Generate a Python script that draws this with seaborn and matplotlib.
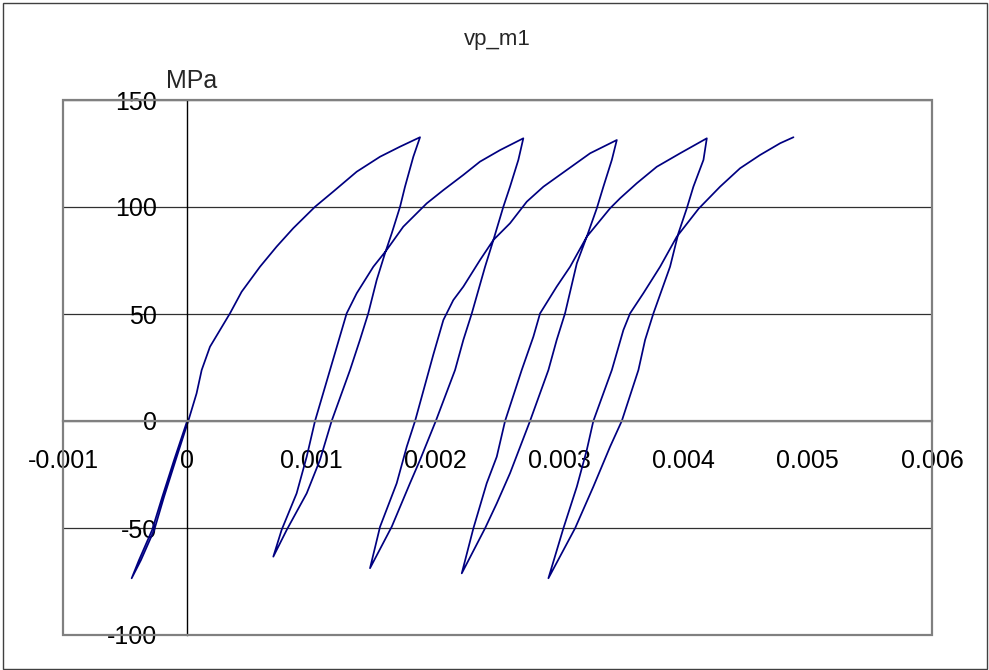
import matplotlib
matplotlib.use("Agg")
import matplotlib.pyplot as plt
from matplotlib.patches import Rectangle
from matplotlib.ticker import FuncFormatter, MultipleLocator
import pandas as pd
import seaborn as sns

# Cyclic test record: (strain, stress in MPa), each branch in load order
ramp_down = [(0.0, 0.0), (-0.000105, -18.2), (-0.000200, -35.4), (-0.000282, -50.9),
             (-0.000388, -65.0), (-0.000447, -73.5)]
load_1 = [(-0.000447, -73.5), (-0.000372, -65.0), (-0.000265, -50.9), (-0.000186, -35.4),
          (-0.000092, -18.2), (0.000009, 0.0), (0.000076, 12.9), (0.000117, 23.8),
          (0.000184, 34.7), (0.000345, 50.3), (0.000439, 60.4), (0.000587, 72.1),
          (0.000721, 81.5), (0.000855, 90.1), (0.001030, 100.1), (0.001177, 107.2),
          (0.001366, 116.5), (0.001554, 123.5), (0.001715, 128.2), (0.001876, 132.6)]
unload_1 = [(0.001876, 132.6), (0.001822, 123.5), (0.001755, 109.5), (0.001715, 100.1),
            (0.001648, 87.7), (0.001594, 78.4), (0.001527, 65.9), (0.001459, 50.3),
            (0.001392, 37.9), (0.001312, 23.8), (0.001164, 0.0), (0.001070, -18.2),
            (0.000963, -33.8), (0.000802, -50.9), (0.000694, -63.4)]
reload_1 = [(0.000694, -63.4), (0.000761, -50.9), (0.000882, -33.8), (0.000963, -16.7),
            (0.001030, 0.0), (0.001151, 23.8), (0.001231, 39.4), (0.001285, 50.3),
            (0.001366, 59.7), (0.001500, 72.1), (0.001607, 79.9), (0.001741, 90.8),
            (0.001930, 101.7), (0.002064, 107.9), (0.002225, 115.0), (0.002359, 121.2),
            (0.002521, 126.6), (0.002708, 132.1)]
unload_2 = [(0.002708, 132.1), (0.002668, 122.0), (0.002601, 109.5), (0.002547, 100.1),
            (0.002467, 84.6), (0.002400, 72.1), (0.002293, 50.3), (0.002225, 37.9),
            (0.002158, 23.8), (0.002003, 0.0), (0.001876, -18.2), (0.001795, -29.1),
            (0.001648, -49.4), (0.001473, -68.8)]
reload_2 = [(0.001473, -68.8), (0.001554, -49.4), (0.001688, -29.1), (0.001769, -12.0),
            (0.001836, 0.0), (0.001983, 31.0), (0.002064, 47.2), (0.002144, 56.5),
            (0.002225, 62.8), (0.002359, 75.2), (0.002467, 84.6), (0.002601, 92.4),
            (0.002736, 102.5), (0.002870, 109.5), (0.003058, 117.3), (0.003246, 125.1),
            (0.003461, 131.3)]
unload_3 = [(0.003461, 131.3), (0.003421, 122.0), (0.003353, 109.5), (0.003300, 99.4),
            (0.003219, 86.1), (0.003139, 73.7), (0.003044, 50.3), (0.002977, 37.9),
            (0.002910, 23.8), (0.002762, 0.0), (0.002601, -24.4), (0.002494, -38.5),
            (0.002400, -50.1), (0.002212, -71.2)]
reload_3 = [(0.002212, -71.2), (0.002306, -50.1), (0.002413, -29.1), (0.002494, -16.7),
            (0.002561, 0.0), (0.002695, 23.8), (0.002789, 39.4), (0.002843, 50.3),
            (0.002977, 62.8), (0.003085, 72.1), (0.003219, 86.1), (0.003407, 99.4),
            (0.003488, 104.1), (0.003622, 111.1), (0.003783, 118.8), (0.003971, 125.1),
            (0.004186, 132.1)]
unload_4 = [(0.004186, 132.1), (0.004159, 122.0), (0.004078, 109.5), (0.004025, 99.4),
            (0.003957, 87.7), (0.003890, 72.1), (0.003756, 50.3), (0.003689, 37.9),
            (0.003635, 23.8), (0.003501, 0.0), (0.003407, -12.0), (0.003272, -30.7),
            (0.003125, -50.1), (0.002910, -73.5)]
reload_4 = [(0.002910, -73.5), (0.003031, -50.1), (0.003139, -30.7), (0.003219, -13.6),
            (0.003272, 0.0), (0.003421, 23.8), (0.003514, 42.5), (0.003568, 50.3),
            (0.003675, 59.7), (0.003810, 72.1), (0.003944, 86.1), (0.004120, 99.2),
            (0.004293, 109.5), (0.004454, 118.1), (0.004615, 124.3), (0.004777, 129.8),
            (0.004884, 132.6)]

branches = [ramp_down, load_1, unload_1, reload_1, unload_2, reload_2,
            unload_3, reload_3, unload_4, reload_4]

title = "vp_m1"
unit = "MPa"
x_limits = (-0.001, 0.006)
y_limits = (-100, 150)

rows = []
for pts in branches:
    for s, p in pts:
        rows.append({"strain": s, "stress": p, "step": len(rows)})
df = pd.DataFrame(rows)

sns.set_style("white")
plt.rcParams["font.family"] = ["Liberation Sans", "DejaVu Sans"]

W, H = 989, 670
fig = plt.figure(figsize=(W / 100, H / 100), dpi=100)
ax = fig.add_axes([63 / W, 35 / H, 869 / W, 535 / H])

sns.lineplot(data=df, x="strain", y="stress", sort=False, estimator=None,
             color="#000080", lw=1.25, ax=ax)

ax.set_xlim(*x_limits)
ax.set_ylim(*y_limits)
ax.xaxis.set_major_locator(MultipleLocator(0.001))
ax.yaxis.set_major_locator(MultipleLocator(50))
fmt = FuncFormatter(lambda v, _: f"{round(v, 6):g}")
ax.xaxis.set_major_formatter(fmt)
ax.yaxis.set_major_formatter(fmt)

# axes cross at the origin, Excel style
ax.spines["left"].set_position(("data", 0))
ax.spines["left"].set_color("black")
ax.spines["left"].set_linewidth(1.0)
ax.spines["bottom"].set_position(("data", 0))
ax.spines["bottom"].set_color("#808080")
ax.spines["bottom"].set_linewidth(1.6)
ax.spines["top"].set_visible(False)
ax.spines["right"].set_visible(False)
ax.add_patch(Rectangle((0, 0), 1, 1, transform=ax.transAxes, fill=False,
                       ec="#808080", lw=1.6, clip_on=False, zorder=3))

ax.tick_params(axis="x", direction="in", length=6, width=1, color="black",
               pad=20.0, labelsize=18, labelcolor="black")
ax.tick_params(axis="y", direction="in", length=6, width=1, color="black",
               pad=21.6, labelsize=18, labelcolor="black")

ax.set_axisbelow(True)
ax.yaxis.grid(True, color="#303030", lw=0.9)
ax.xaxis.grid(False)

ax.set_xlabel("")
ax.set_ylabel(unit, rotation=0, fontsize=18, ha="left", va="baseline")
ax.yaxis.set_label_coords(103 / 869, (635 - 88) / 535)
ax.set_title(title, fontsize=16, pad=39.6)

fig.patches.append(Rectangle((3 / W, 1 / H), 984 / W, 666 / H, transform=fig.transFigure,
                             fill=False, ec="#404040", lw=1.0))

fig.savefig("out.png", dpi=100, facecolor="white")
